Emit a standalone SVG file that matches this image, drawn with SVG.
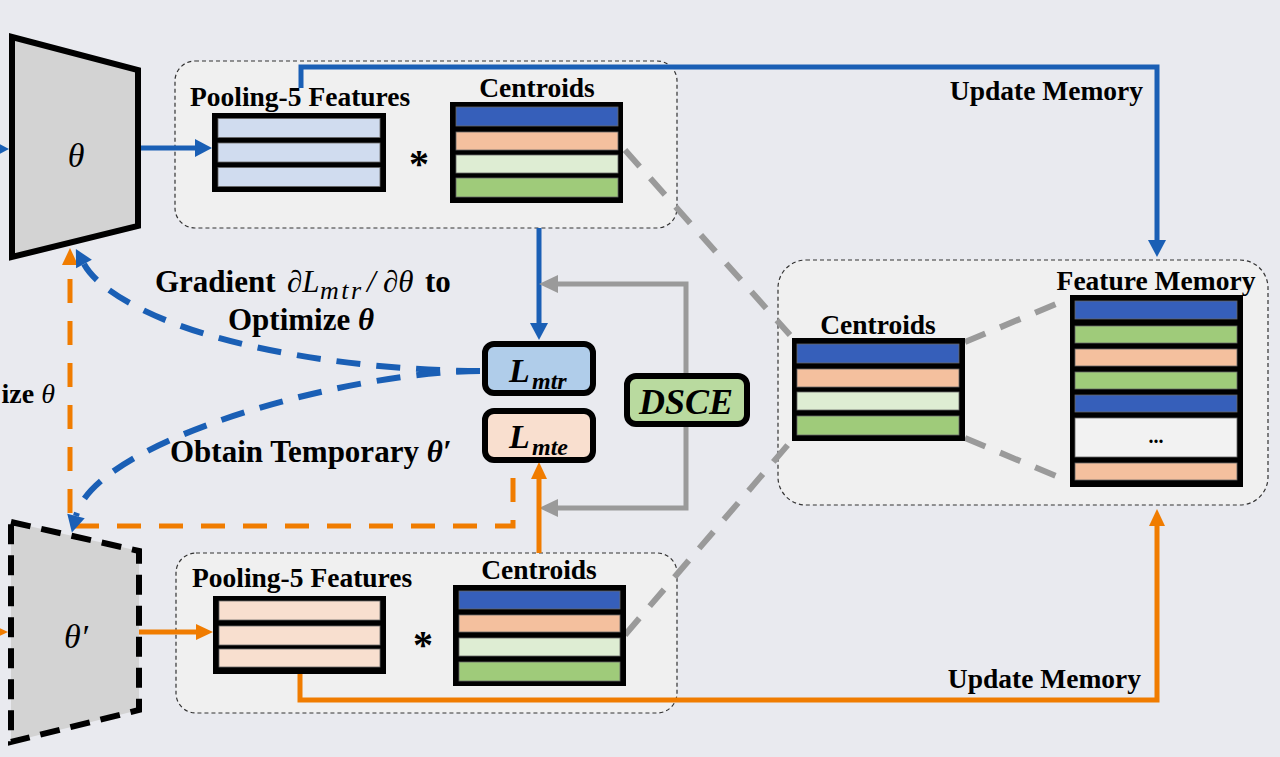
<svg xmlns="http://www.w3.org/2000/svg" width="1280" height="757" viewBox="0 0 1280 757">
<defs>
<style>
text{font-family:"Liberation Serif","Times New Roman",serif;fill:#000}
.lbl{font-size:27.5px;font-weight:bold}
.mid{font-size:31px;font-weight:bold}
.grp{fill:#f0f0f0;stroke:#333;stroke-width:1.2;stroke-dasharray:4 3}
.frame{fill:#000}
.row{stroke:#666;stroke-width:0.8}
.cb{fill:#365fba}.cp{fill:#f4c09e}.cl{fill:#deedd3}.cg{fill:#9fcb7a}.fb{fill:#d0dcef}.fp{fill:#f8dfcf}.fw{fill:#f2f2f2}
.blue{fill:none;stroke:#1a5fb5;stroke-width:5}
.orange{fill:none;stroke:#f07c00;stroke-width:5}
.gray{fill:none;stroke:#9a9a9a;stroke-width:5}
.gdash{fill:none;stroke:#9a9a9a;stroke-width:6;stroke-dasharray:22 16}
.bdash{fill:none;stroke:#1a5fb5;stroke-width:6;stroke-dasharray:24 16}
.odash{fill:none;stroke:#f07c00;stroke-width:5;stroke-dasharray:24 18}
.loss{stroke:#000;stroke-width:6}
.it{font-style:italic}
</style>
<marker id="ab" markerUnits="userSpaceOnUse" markerWidth="18" markerHeight="18" viewBox="0 0 18 18" refX="0" refY="9" orient="auto" overflow="visible"><path d="M0,0 L17,9 L0,18z" fill="#1a5fb5"/></marker>
<marker id="ao" markerUnits="userSpaceOnUse" markerWidth="17" markerHeight="16" viewBox="0 0 17 16" refX="0" refY="8" orient="auto" overflow="visible"><path d="M0,0 L17,8 L0,16z" fill="#f07c00"/></marker>
<marker id="ag" markerUnits="userSpaceOnUse" markerWidth="19" markerHeight="18" viewBox="0 0 19 18" refX="0" refY="9" orient="auto" overflow="visible"><path d="M0,0 L19,9 L0,18z" fill="#9a9a9a"/></marker>
</defs>
<rect x="0" y="0" width="1280" height="757" fill="#e9eaef"/>

<g id="top-group"><rect class="grp" x="175" y="61" width="502" height="167" rx="20"/></g>
<g id="bottom-group"><rect class="grp" x="176" y="553" width="501" height="160" rx="20"/></g>
<g id="memory-group"><rect class="grp" x="778" y="260" width="490" height="245" rx="28"/></g>

<g id="connectors">
<path class="gdash" d="M625,150 L790,335"/>
<path class="gdash" d="M625,635 L792,440"/>
<path class="gdash" d="M965,342 L1068,299"/>
<path class="gdash" d="M965,438 L1068,481"/>
<path class="blue" d="M-20,149 H-8" marker-end="url(#ab)"/>
<path class="blue" d="M138,148 H195" marker-end="url(#ab)"/>
<path class="blue" d="M301,88 V67 H1157 V240" marker-end="url(#ab)"/>
<path class="blue" d="M539,228 V323" marker-end="url(#ab)"/>
<path class="gray" d="M686,373 V284 H558" marker-end="url(#ag)"/>
<path class="gray" d="M686,427 V508 H558" marker-end="url(#ag)"/>
<path class="orange" d="M-20,632 H-9" marker-end="url(#ao)"/>
<path class="orange" d="M138,632 H196" marker-end="url(#ao)"/>
<path class="orange" d="M300,674 V700 H1157 V526" marker-end="url(#ao)"/>
<path class="orange" d="M539,553 V479" marker-end="url(#ao)"/>
<path class="odash" d="M513,478 V526 H70 V265" marker-end="url(#ao)"/>
<path class="bdash" d="M480,371 C380,371 190,352 105,287 Q90,275 84,264" marker-end="url(#ab)"/>
<path class="bdash" d="M480,371 C350,371 95,440 76,516" marker-end="url(#ab)"/>
</g>

<g id="theta-net">
<polygon points="12,37 138,70 138,226 12,257" fill="#d3d3d3" stroke="#000" stroke-width="6"/>
<text x="76" y="167" font-size="34" class="it" text-anchor="middle">θ</text>
</g>
<g id="theta-prime-net">
<polygon points="11,522 139,551 139,710 11,742" fill="#d3d3d3" stroke="#000" stroke-width="6" stroke-dasharray="20 11"/>
<text x="76" y="648" font-size="34" class="it" text-anchor="middle">θ′</text>
</g>

<g id="top-features">
<text class="lbl" x="190" y="106">Pooling-5 Features</text>
<rect class="frame" x="212" y="113" width="174" height="79"/>
<rect class="row fb" x="218" y="118.5" width="162" height="19"/>
<rect class="row fb" x="218" y="143" width="162" height="19"/>
<rect class="row fb" x="218" y="167.5" width="162" height="19"/>
<text x="419" y="177" font-size="40" font-weight="bold" text-anchor="middle">*</text>
</g>
<g id="top-centroids">
<text class="lbl" x="537" y="97" text-anchor="middle">Centroids</text>
<rect class="frame" x="450" y="102" width="173" height="101"/>
<rect class="row cb" x="456" y="107" width="162" height="19"/>
<rect class="row cp" x="456" y="132" width="162" height="18"/>
<rect class="row cl" x="456" y="155" width="162" height="18"/>
<rect class="row cg" x="456" y="178" width="162" height="19"/>
</g>

<g id="bottom-features">
<text class="lbl" x="192" y="587">Pooling-5 Features</text>
<rect class="frame" x="213" y="596" width="173" height="78"/>
<rect class="row fp" x="219" y="601" width="161" height="19"/>
<rect class="row fp" x="219" y="626" width="161" height="19"/>
<rect class="row fp" x="219" y="649" width="161" height="18"/>
<text x="423" y="658" font-size="40" font-weight="bold" text-anchor="middle">*</text>
</g>
<g id="bottom-centroids">
<text class="lbl" x="539" y="579" text-anchor="middle">Centroids</text>
<rect class="frame" x="453" y="585" width="173" height="101"/>
<rect class="row cb" x="459" y="591" width="161" height="18"/>
<rect class="row cp" x="459" y="615" width="161" height="17"/>
<rect class="row cl" x="459" y="638" width="161" height="18"/>
<rect class="row cg" x="459" y="662" width="161" height="19"/>
</g>

<g id="memory-centroids">
<text class="lbl" x="878" y="334" text-anchor="middle">Centroids</text>
<rect class="frame" x="792" y="338" width="173" height="103"/>
<rect class="row cb" x="797" y="344" width="162" height="19"/>
<rect class="row cp" x="797" y="369" width="162" height="18"/>
<rect class="row cl" x="797" y="392" width="162" height="18"/>
<rect class="row cg" x="797" y="416" width="162" height="19"/>
</g>
<g id="feature-memory">
<text class="lbl" x="1156" y="290" text-anchor="middle">Feature Memory</text>
<rect class="frame" x="1070" y="295" width="173" height="192"/>
<rect class="row cb" x="1075" y="301" width="162" height="18"/>
<rect class="row cg" x="1075" y="326" width="162" height="17"/>
<rect class="row cp" x="1075" y="349" width="162" height="17"/>
<rect class="row cg" x="1075" y="372" width="162" height="17"/>
<rect class="row cb" x="1075" y="395" width="162" height="17"/>
<rect class="row fw" x="1075" y="418" width="162" height="39"/>
<rect class="row cp" x="1075" y="463" width="162" height="17"/>
<text x="1156" y="443" font-size="20" font-weight="bold" text-anchor="middle">...</text>
</g>

<g id="loss-mtr">
<rect class="loss" x="485" y="344" width="108" height="49" rx="9" fill="#b0cdea"/>
<text font-weight="bold" class="it"><tspan x="509" y="382" font-size="34">L</tspan><tspan x="532" y="389" font-size="24">mtr</tspan></text>
</g>
<g id="loss-mte">
<rect class="loss" x="485" y="411" width="108" height="49" rx="9" fill="#f9dfcf"/>
<text font-weight="bold" class="it"><tspan x="509" y="448" font-size="34">L</tspan><tspan x="532" y="455" font-size="24">mte</tspan></text>
</g>
<g id="dsce">
<rect class="loss" x="627" y="376" width="120" height="48" rx="9" fill="#b9da9f"/>
<text x="686" y="414" font-size="36" font-weight="bold" class="it" text-anchor="middle">DSCE</text>
</g>

<g id="labels">
<text class="lbl" x="1143" y="100" text-anchor="end">Update Memory</text>
<text class="lbl" x="1141" y="688" text-anchor="end">Update Memory</text>
<text class="mid" y="292"><tspan x="155">Gradient</tspan><tspan x="287" class="it" font-weight="normal">∂L</tspan><tspan x="320" y="299" class="it" font-weight="normal" font-size="26" letter-spacing="2.5">mtr</tspan><tspan x="367" y="292" class="it" font-weight="normal">/</tspan><tspan x="383" class="it" font-weight="normal">∂θ</tspan><tspan x="425">to</tspan></text>
<text class="mid" x="228" y="330">Optimize <tspan class="it">θ</tspan></text>
<text class="mid" x="170" y="462">Obtain Temporary <tspan class="it">θ′</tspan></text>
<text x="55" y="403" font-size="28" font-weight="bold" text-anchor="end">ize <tspan class="it" font-weight="normal">θ</tspan></text>
</g>
</svg>
